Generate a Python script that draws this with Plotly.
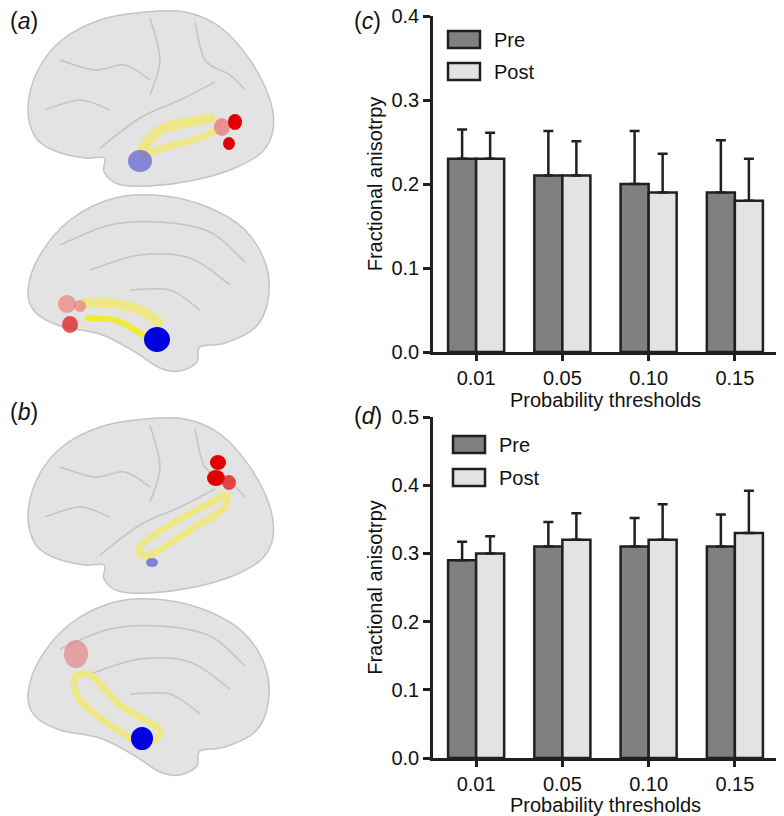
import plotly.graph_objects as go

# ---- data ----
thresholds = ["0.01", "0.05", "0.10", "0.15"]

c_pre = [0.23, 0.21, 0.20, 0.19]
c_pre_sd = [0.035, 0.053, 0.063, 0.062]
c_post = [0.23, 0.21, 0.19, 0.18]
c_post_sd = [0.031, 0.041, 0.046, 0.050]

d_pre = [0.29, 0.31, 0.31, 0.31]
d_pre_sd = [0.027, 0.036, 0.042, 0.047]
d_post = [0.30, 0.32, 0.32, 0.33]
d_post_sd = [0.025, 0.039, 0.052, 0.062]

# page is 784x816 but the body has an 8px margin, so the figure is shrunk by that
OFF = 8
W, H = 784 - OFF, 816 - OFF
INK = "#231f20"
PRE_COL = "#808080"
POST_COL = "#e3e3e3"
FONT = "Arial, Liberation Sans, sans-serif"
TXT = "#111"
FS = 20


def fx(px):
    return (px - OFF) / W


def fy(px):
    return 1 - (px - OFF) / H


def smooth(pts, closed=True, dx=0, dy=0):
    """Catmull-Rom through pts -> svg path (pixel coords)."""
    p = [(x + dx, y + dy) for x, y in pts]
    n = len(p)
    s = f"M{p[0][0]},{p[0][1]}"
    rng = range(n) if closed else range(n - 1)
    for i in rng:
        p0 = p[(i - 1) % n] if closed or i > 0 else p[i]
        p1 = p[i]
        p2 = p[(i + 1) % n]
        p3 = p[(i + 2) % n] if closed or i + 2 < n else p2
        c1 = (p1[0] + (p2[0] - p0[0]) / 6, p1[1] + (p2[1] - p0[1]) / 6)
        c2 = (p2[0] - (p3[0] - p1[0]) / 6, p2[1] - (p3[1] - p1[1]) / 6)
        s += f" C{c1[0]:.1f},{c1[1]:.1f} {c2[0]:.1f},{c2[1]:.1f} {p2[0]:.1f},{p2[1]:.1f}"
    if closed:
        s += " Z"
    return s


fig = go.Figure()

# invisible trace so the pixel overlay axes exist (added first, drawn below)
fig.add_trace(go.Scatter(x=[], y=[], xaxis="x3", yaxis="y3", showlegend=False))

for name, ys, sd, col, xa, ya in [
    ("Pre", c_pre, c_pre_sd, PRE_COL, "x", "y"),
    ("Post", c_post, c_post_sd, POST_COL, "x", "y"),
    ("Pre", d_pre, d_pre_sd, PRE_COL, "x2", "y2"),
    ("Post", d_post, d_post_sd, POST_COL, "x2", "y2"),
]:
    fig.add_trace(go.Bar(
        name=name, x=thresholds, y=ys, xaxis=xa, yaxis=ya,
        marker=dict(color=col, line=dict(color=INK, width=2.5)),
        error_y=dict(type="data", symmetric=False, array=sd,
                     arrayminus=[0] * len(sd), color=INK, thickness=2.5, width=5),
        showlegend=False,
    ))


def axis(**kw):
    base = dict(showline=True, linecolor=INK, linewidth=2.5, ticks="outside",
                tickcolor=INK, tickwidth=2.5, ticklen=7, showgrid=False,
                zeroline=False, automargin=False, ticklabeloverflow="allow",
                tickfont=dict(size=FS, color=TXT, family=FONT))
    base.update(kw)
    return base


def title(text, standoff):
    return dict(text=text, standoff=standoff,
                font=dict(size=FS, color=TXT, family=FONT))


xdom = [fx(433), fx(778)]
fig.update_layout(
    width=W, height=H, margin=dict(l=0, r=0, t=0, b=0, autoexpand=False),
    paper_bgcolor="white", plot_bgcolor="rgba(0,0,0,0)",
    font=dict(family=FONT, color=TXT),
    barmode="group", bargap=0.35, bargroupgap=0,
    xaxis=axis(domain=xdom, anchor="y", range=[-0.5, 3.5], ticklen=6,
               title=title("Probability thresholds", 0)),
    yaxis=axis(domain=[fy(352), fy(16)], anchor="x", range=[0, 0.4],
               dtick=0.1, tickformat=".1f",
               title=title("Fractional anisotrpy", 4)),
    xaxis2=axis(domain=xdom, anchor="y2", range=[-0.5, 3.5], ticklen=6,
                title=title("Probability thresholds", 0)),
    yaxis2=axis(domain=[fy(758), fy(417)], anchor="x2", range=[0, 0.5],
                dtick=0.1, tickformat=".1f",
                title=title("Fractional anisotrpy", 4)),
    xaxis3=dict(domain=[0, 1], range=[OFF, OFF + W], visible=False,
                fixedrange=True, anchor="y3", automargin=False),
    yaxis3=dict(domain=[0, 1], range=[OFF + H, OFF], visible=False,
                fixedrange=True, anchor="x3", automargin=False),
)

shapes = []
annos = []


def px_shape(**kw):
    kw.setdefault("xref", "x3")
    kw.setdefault("yref", "y3")
    shapes.append(kw)


# ---- legends (custom swatches) ----
for x0, pre_y, post_y in [(448, 31, 63), (453, 436, 469)]:
    for yy, col, lab in [(pre_y, PRE_COL, "Pre"), (post_y, POST_COL, "Post")]:
        px_shape(type="rect", x0=x0, x1=x0 + 32, y0=yy, y1=yy + 17,
                 fillcolor=col, line=dict(color=INK, width=2.5))
        annos.append(dict(xref="x3", yref="y3", x=x0 + 44, y=yy + 8.5, text=lab,
                          showarrow=False, xanchor="left", yanchor="middle",
                          font=dict(size=FS, family=FONT, color=TXT)))

# ---- panel labels ----
for lab, x, y in [("a", 8, 21), ("b", 8, 412), ("c", 352, 21), ("d", 352, 416)]:
    annos.append(dict(xref="x3", yref="y3", x=x, y=y, text=f"(<i>{lab}</i>)",
                      showarrow=False, xanchor="left", yanchor="middle",
                      font=dict(size=23, family=FONT, color=TXT)))

# ---- brain illustrations ----
lateral = [(28, 108), (38, 70), (62, 40), (100, 20), (145, 12), (185, 12),
           (220, 27), (250, 60), (270, 100), (273, 130), (262, 152), (235, 168),
           (195, 180), (150, 186), (118, 184), (104, 172), (104, 158),
           (85, 158), (58, 152), (36, 138)]
medial = [(28, 290), (40, 255), (70, 220), (115, 198), (165, 196), (210, 208),
          (245, 230), (266, 265), (268, 300), (255, 328), (225, 343), (200, 347),
          (197, 362), (180, 371), (160, 368), (135, 352), (100, 334), (60, 326),
          (35, 312)]
lat_sulci = [
    [(100, 148), (140, 118), (180, 100), (215, 82)],
    [(60, 60), (95, 70), (125, 65), (150, 80)],
    [(150, 18), (160, 60), (150, 95)],
    [(195, 22), (205, 60), (230, 75), (245, 90)],
    [(45, 110), (80, 100), (110, 110)],
]
med_sulci = [
    [(60, 245), (110, 225), (160, 222), (210, 232), (245, 262)],
    [(90, 270), (140, 255), (190, 258), (230, 285)],
    [(130, 290), (170, 290), (200, 310)],
]

BRAIN_FILL = "#e3e3e3"
BRAIN_LINE = "#c4c4c4"
SULC = "rgba(150,150,150,0.4)"
YEL = "rgba(238,232,120,0.85)"

for dy_lat, dy_med in [(0, 0), (407, 404)]:
    px_shape(type="path", path=smooth(lateral, dy=dy_lat), fillcolor=BRAIN_FILL,
             line=dict(color=BRAIN_LINE, width=1.5))
    for s in lat_sulci:
        px_shape(type="path", path=smooth(s, closed=False, dy=dy_lat),
                 line=dict(color=SULC, width=1.5))
    px_shape(type="path", path=smooth(medial, dy=dy_med), fillcolor=BRAIN_FILL,
             line=dict(color=BRAIN_LINE, width=1.5))
    for s in med_sulci:
        px_shape(type="path", path=smooth(s, closed=False, dy=dy_med),
                 line=dict(color=SULC, width=1.5))

# (a) lateral
px_shape(type="path", path=smooth([(140, 152), (160, 130), (190, 122), (215, 118)],
                                  closed=False), line=dict(color=YEL, width=10))
px_shape(type="path", path=smooth([(140, 156), (170, 146), (200, 138), (216, 130)],
                                  closed=False), line=dict(color=YEL, width=7))
px_shape(type="circle", x0=128, x1=152, y0=150, y1=172,
         fillcolor="rgba(70,70,210,0.6)", line=dict(width=0))
px_shape(type="circle", x0=214, x1=230, y0=118, y1=136,
         fillcolor="rgba(235,110,110,0.7)", line=dict(width=0))
px_shape(type="circle", x0=228, x1=242, y0=114, y1=130, fillcolor="#e00000",
         line=dict(width=0))
px_shape(type="circle", x0=223, x1=235, y0=137, y1=150, fillcolor="#e00000",
         line=dict(width=0))

# (a) medial
px_shape(type="path", path=smooth([(82, 303), (110, 303), (140, 310), (162, 325)],
                                  closed=False), line=dict(color=YEL, width=10))
px_shape(type="path", path=smooth([(85, 318), (115, 320), (135, 330), (150, 340)],
                                  closed=False),
         line=dict(color="rgba(240,235,40,0.9)", width=6))
px_shape(type="circle", x0=58, x1=76, y0=295, y1=313,
         fillcolor="rgba(235,110,110,0.6)", line=dict(width=0))
px_shape(type="circle", x0=74, x1=86, y0=300, y1=312,
         fillcolor="rgba(235,110,110,0.6)", line=dict(width=0))
px_shape(type="circle", x0=62, x1=78, y0=316, y1=333,
         fillcolor="rgba(220,40,40,0.8)", line=dict(width=0))
px_shape(type="circle", x0=144, x1=170, y0=327, y1=352, fillcolor="#0000e0",
         line=dict(width=0))

# (b) lateral
px_shape(type="path",
         path=smooth([(140, 546), (175, 522), (210, 503), (226, 495), (222, 510),
                      (190, 530), (150, 555)]),
         fillcolor="rgba(0,0,0,0)", line=dict(color=YEL, width=7))
px_shape(type="circle", x0=210, x1=226, y0=455, y1=470, fillcolor="#e00000",
         line=dict(width=0))
px_shape(type="circle", x0=207, x1=225, y0=470, y1=486, fillcolor="#e00000",
         line=dict(width=0))
px_shape(type="circle", x0=222, x1=236, y0=475, y1=490,
         fillcolor="rgba(225,30,30,0.8)", line=dict(width=0))
px_shape(type="circle", x0=146, x1=158, y0=558, y1=567,
         fillcolor="rgba(60,60,200,0.6)", line=dict(width=0))

# (b) medial
px_shape(type="circle", x0=64, x1=88, y0=640, y1=668,
         fillcolor="rgba(225,110,110,0.55)", line=dict(width=0))
px_shape(type="path",
         path=smooth([(75, 678), (92, 676), (120, 705), (158, 728), (155, 740),
                      (140, 742), (110, 725), (80, 700)]),
         fillcolor="rgba(0,0,0,0)", line=dict(color=YEL, width=7))
px_shape(type="circle", x0=131, x1=153, y0=727, y1=750, fillcolor="#0000e0",
         line=dict(width=0))

fig.update_layout(shapes=shapes, annotations=annos)

fig.write_html("out.html")
